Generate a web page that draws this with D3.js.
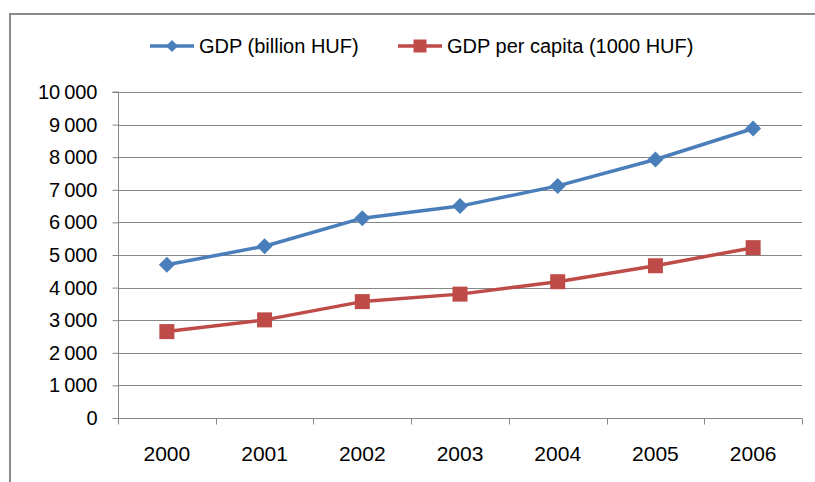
<!DOCTYPE html>
<html>
<head>
<meta charset="utf-8">
<script src="https://cdn.jsdelivr.net/npm/d3@7"></script>
<style>
  html, body { margin: 0; padding: 0; background: #fff; }
  svg { display: block; }
  text { font-family: "Liberation Sans", Arial, sans-serif; fill: #000; }
</style>
</head>
<body>
<svg id="chart" width="815" height="482"></svg>
<script>
// Hungarian GDP figures, 2000–2006
const years = ["2000", "2001", "2002", "2003", "2004", "2005", "2006"];
const gdpBillion = [4700, 5270, 6130, 6500, 7120, 7930, 8880];
const gdpPerCapita = [2650, 3010, 3570, 3800, 4180, 4670, 5225];
const yTicks = [0, 1000, 2000, 3000, 4000, 5000, 6000, 7000, 8000, 9000, 10000];
const seriesNames = ["GDP (billion HUF)", "GDP per capita (1000 HUF)"];

const svg = d3.select("#chart");
const W = 815, H = 482;
const plot = { left: 118, right: 802, top: 92, bottom: 418 };

const x = d3.scaleBand().domain(years).range([plot.left, plot.right]).padding(0);
const y = d3.scaleLinear().domain([0, 10000]).range([plot.bottom, plot.top]);

const gridColor = "#868686";
const fmt = v => d3.format(",")(v).replace(/,/g, "\u2009");

// outer frame
svg.append("rect")
  .attr("x", 10).attr("y", 14).attr("width", W + 20).attr("height", H + 20)
  .attr("fill", "none").attr("stroke", "#8c8c8c").attr("stroke-width", 2);

// horizontal gridlines
svg.append("g").selectAll("line").data(yTicks.filter(d => d > 0)).join("line")
  .attr("x1", plot.left).attr("x2", plot.right)
  .attr("y1", d => Math.round(y(d)) + 0.5).attr("y2", d => Math.round(y(d)) + 0.5)
  .attr("stroke", gridColor).attr("stroke-width", 1);

// y axis
const yAxis = svg.append("g")
  .attr("transform", `translate(${plot.left + 0.5},0)`)
  .call(d3.axisLeft(y).tickValues(yTicks).tickSize(6).tickPadding(15).tickFormat(fmt));
yAxis.select(".domain").attr("stroke", gridColor).attr("d", `M-6,${plot.top}H0V${plot.bottom + 0.5}`);
yAxis.selectAll(".tick line").attr("stroke", gridColor);
yAxis.selectAll(".tick text").style("font-size", "20px").style("font-family", "Liberation Sans, Arial, sans-serif").attr("fill", "#000");

// x axis with ticks on category boundaries
const xg = svg.append("g").attr("transform", `translate(0,${Math.round(plot.bottom) + 0.5})`);
xg.append("line").attr("x1", plot.left).attr("x2", plot.right).attr("stroke", gridColor);
const bounds = years.map(d => x(d)).concat([plot.right]);
xg.selectAll("line.tk").data(bounds).join("line").attr("class", "tk")
  .attr("x1", d => Math.round(d) + 0.5).attr("x2", d => Math.round(d) + 0.5)
  .attr("y1", 0).attr("y2", 6).attr("stroke", gridColor);
xg.selectAll("text").data(years).join("text")
  .attr("x", d => x(d) + x.bandwidth() / 2).attr("y", 42)
  .attr("text-anchor", "middle").style("font-size", "21px").text(d => d);

const cx = d => x(d) + x.bandwidth() / 2;
const colors = ["#4a7ebb", "#be4b48"];
const data = [gdpBillion, gdpPerCapita];

const line = d3.line().x((d, i) => cx(years[i])).y(d => y(d));
data.forEach((vals, s) => {
  svg.append("path").datum(vals)
    .attr("d", line).attr("fill", "none")
    .attr("stroke", colors[s]).attr("stroke-width", 3.5).attr("stroke-linejoin", "round");
});

const diamond = d3.symbol().type(d3.symbolSquare).size(128);
// GDP markers: diamonds
svg.append("g").selectAll("path").data(gdpBillion).join("path")
  .attr("d", diamond)
  .attr("transform", (d, i) => `translate(${cx(years[i])},${y(d)}) rotate(45)`)
  .attr("fill", colors[0]);
// per capita markers: squares
svg.append("g").selectAll("rect").data(gdpPerCapita).join("rect")
  .attr("x", (d, i) => cx(years[i]) - 7.5).attr("y", d => y(d) - 7.5)
  .attr("width", 15).attr("height", 15)
  .attr("fill", colors[1]);

// legend
const legend = [
  { name: seriesNames[0], x: 150, color: colors[0], marker: "diamond" },
  { name: seriesNames[1], x: 398, color: colors[1], marker: "square" }
];
const ly = 46;
legend.forEach(l => {
  const g = svg.append("g");
  g.append("line").attr("x1", l.x).attr("x2", l.x + 44).attr("y1", ly).attr("y2", ly)
    .attr("stroke", l.color).attr("stroke-width", 3.5);
  if (l.marker === "diamond") {
    g.append("path").attr("d", d3.symbol().type(d3.symbolSquare).size(72))
      .attr("transform", `translate(${l.x + 22},${ly}) rotate(45)`).attr("fill", l.color);
  } else {
    g.append("rect").attr("x", l.x + 22 - 6.5).attr("y", ly - 6.5).attr("width", 13).attr("height", 13)
      .attr("fill", l.color);
  }
  g.append("text").attr("x", l.x + 49).attr("y", ly + 7)
    .style("font-size", "20px").text(l.name);
});
</script>
</body>
</html>
